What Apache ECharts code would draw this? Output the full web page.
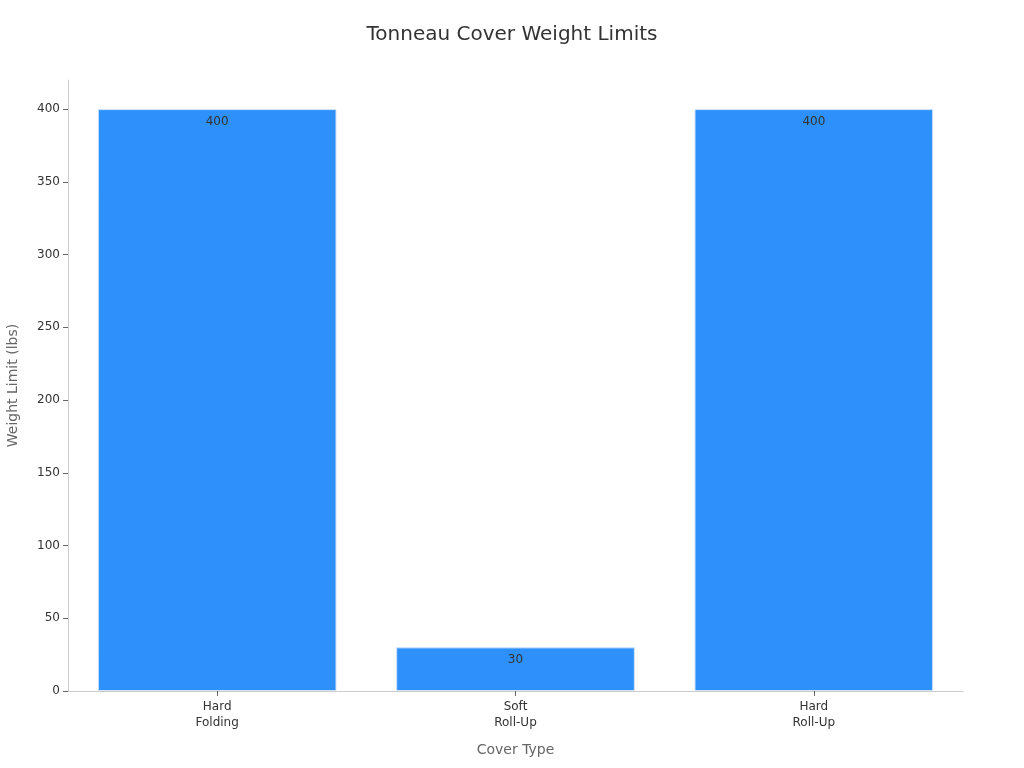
<!DOCTYPE html>
<html lang="en">
<head>
    <meta charset="UTF-8">
    <title>Tonneau Cover Weight Limits</title>
    <style>
        body { margin: 0; padding: 0; background: #fff; }
        #main { width: 1024px; height: 768px; }
    </style>
</head>
<body>
<div id="main"></div>
<script src="https://cdn.jsdelivr.net/npm/echarts@6/dist/echarts.min.js"></script>
<script>
    const coverTypes = ['Hard\nFolding', 'Soft\nRoll-Up', 'Hard\nRoll-Up'];
    const weightLimits = [400, 30, 400];

    const chart = echarts.init(document.getElementById('main'));

    const option = {
        backgroundColor: '#fff',
        textStyle: { fontFamily: 'DejaVu Sans' },
        title: {
            text: 'Tonneau Cover Weight Limits',
            left: 'center',
            top: 20,
            textStyle: { fontSize: 20, fontWeight: 'normal', color: '#333' }
        },
        grid: { left: 68, right: 61, top: 80, bottom: 77, outerBoundsMode: 'none' },
        xAxis: {
            type: 'category',
            data: coverTypes,
            name: 'Cover Type',
            nameLocation: 'middle',
            nameGap: 52,
            nameTextStyle: { fontSize: 14, color: '#666' },
            axisLine: { lineStyle: { color: '#ccc' } },
            axisTick: { show: true, alignWithLabel: true, length: 5, lineStyle: { color: '#666' } },
            axisLabel: { color: '#333', fontSize: 12, lineHeight: 16 }
        },
        yAxis: {
            type: 'value',
            min: 0,
            max: 420,
            interval: 50,
            name: 'Weight Limit (lbs)',
            nameLocation: 'middle',
            nameGap: 48,
            nameTextStyle: { fontSize: 14, color: '#666' },
            axisLine: { show: true, lineStyle: { color: '#ccc' } },
            axisTick: { show: true, length: 5, lineStyle: { color: '#666' } },
            axisLabel: { color: '#333', fontSize: 12, showMaxLabel: false },
            splitLine: { show: false }
        },
        series: [{
            type: 'bar',
            data: weightLimits,
            barCategoryGap: '20%',
            itemStyle: { color: '#2E90FA', borderColor: '#cfe3fb', borderWidth: 1 },
            label: {
                show: true,
                position: 'insideTop',
                distance: 7,
                color: '#333',
                fontSize: 12
            }
        }]
    };

    chart.setOption(option);
</script>
</body>
</html>
